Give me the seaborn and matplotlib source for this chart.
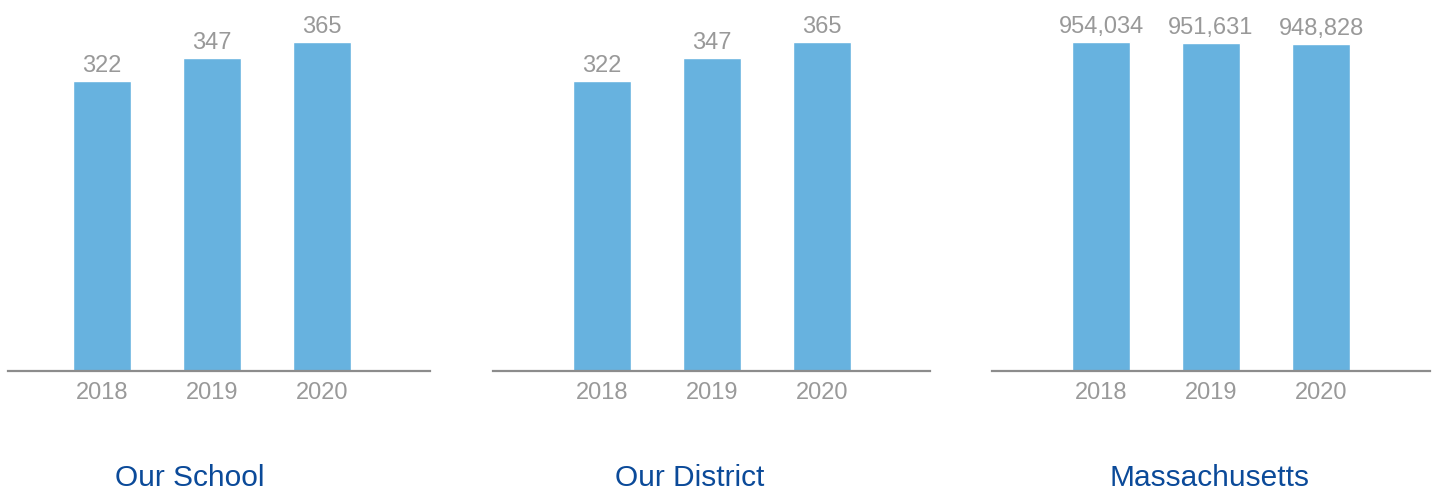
import matplotlib
matplotlib.use("Agg")
import matplotlib.pyplot as plt
import seaborn as sns
import pandas as pd

years = ["2018", "2019", "2020"]
school = [322, 347, 365]
district = [322, 347, 365]
state = [954034, 951631, 948828]
titles = ["Our School", "Our District", "Massachusetts"]

bar_color = "#67b2df"
gray = "#999999"
title_color = "#0b4a99"

sns.set_theme(style="white")
plt.rcParams["font.family"] = ["Liberation Sans", "DejaVu Sans"]

fig = plt.figure(figsize=(14.36, 4.9), dpi=100)

# axes placed in pixel terms: (left, right) of the baseline for each panel
spans = [(8, 430), (493, 930), (992, 1430)]
title_x = [190, 690, 1210]
W, H = 1436, 490
base_y = 371

for i, vals in enumerate([school, district, state]):
    l, r = spans[i]
    ax = fig.add_axes([l / W, (H - base_y) / H, (r - l) / W, base_y / H])
    df = pd.DataFrame({"year": years, "value": vals})
    sns.barplot(data=df, x="year", y="value", ax=ax, color=bar_color,
                width=0.53, saturation=1)
    # first bar centre sits at pixel l + offset
    centre0 = [102, 602, 1101][i]
    ax.set_xlim((l - centre0) / 110, (r - centre0) / 110)
    ax.set_ylim(0, max(vals) * base_y / 329)
    ax.bar_label(ax.containers[0], labels=[f"{v:,}" for v in vals],
                 padding=3, fontsize=17, color=gray)
    for s in ["top", "left", "right"]:
        ax.spines[s].set_visible(False)
    ax.spines["bottom"].set_color("#8c8c8c")
    ax.spines["bottom"].set_linewidth(1.6)
    ax.set_yticks([])
    ax.tick_params(axis="x", length=0, pad=8, labelsize=17, labelcolor=gray)
    ax.set_xlabel("")
    ax.set_ylabel("")
    ax.patch.set_alpha(0)
    fig.text(title_x[i] / W, 1 - 478 / H, titles[i], ha="center", va="center",
             fontsize=21.5, color=title_color)

fig.savefig("out.png", dpi=100)
